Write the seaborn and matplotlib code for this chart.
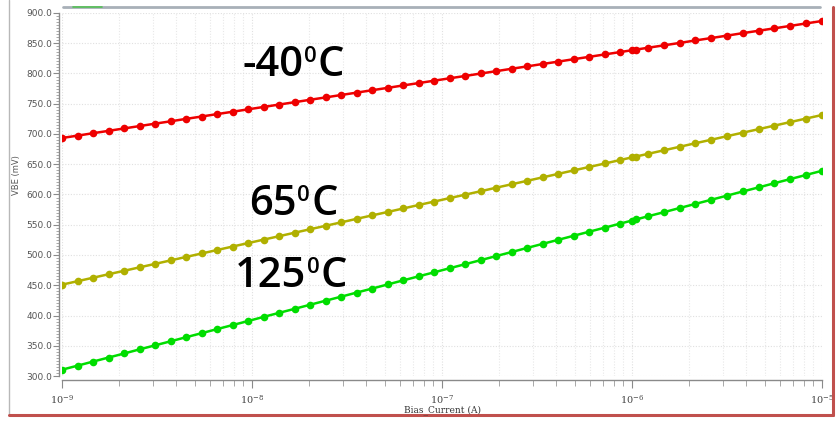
import numpy as np
import pandas as pd
import matplotlib
matplotlib.use("Agg")
import matplotlib.pyplot as plt
from matplotlib.lines import Line2D
from matplotlib.ticker import FixedLocator, MultipleLocator, FuncFormatter
import seaborn as sns

# Bias-current sweep (log10 of amps): first run 1n..~1u, second run 1u..10u
SWEEP1_LOG = [-9.000, -8.918, -8.837, -8.755, -8.673, -8.592, -8.510, -8.428,
              -8.347, -8.265, -8.184, -8.102, -8.020, -7.939, -7.857, -7.775,
              -7.694, -7.612, -7.530, -7.449, -7.367, -7.285, -7.204, -7.122,
              -7.040, -6.959, -6.877, -6.795, -6.714, -6.632, -6.551, -6.469,
              -6.387, -6.306, -6.224, -6.142, -6.061, -5.979]
SWEEP2_LOG = [-6.000, -5.917, -5.833, -5.750, -5.667, -5.583, -5.500, -5.417,
              -5.333, -5.250, -5.167, -5.083, -5.000]

# VBE (mV) at -40 C
VBE_M40_1 = [693.4, 697.3, 701.3, 705.2, 709.2, 713.1, 717.1, 721.0, 725.0, 728.9,
             732.9, 736.8, 740.8, 744.7, 748.7, 752.6, 756.6, 760.5, 764.5, 768.4,
             772.4, 776.3, 780.3, 784.2, 788.2, 792.1, 796.0, 800.0, 803.9, 807.9,
             811.8, 815.8, 819.7, 823.7, 827.6, 831.6, 835.5, 839.5]
VBE_M40_2 = [838.5, 842.5, 846.5, 850.5, 854.6, 858.6, 862.6, 866.7, 870.7, 874.7,
             878.7, 882.8, 886.8]
# VBE (mV) at 65 C
VBE_65_1 = [451.0, 456.7, 462.4, 468.2, 473.9, 479.6, 485.3, 491.1, 496.8, 502.5,
            508.2, 514.0, 519.7, 525.4, 531.1, 536.9, 542.6, 548.3, 554.0, 559.8,
            565.5, 571.2, 576.9, 582.7, 588.4, 594.1, 599.8, 605.5, 611.3, 617.0,
            622.7, 628.4, 634.2, 639.9, 645.6, 651.3, 657.1, 662.8]
VBE_65_2 = [661.3, 667.1, 673.0, 678.8, 684.7, 690.5, 696.4, 702.2, 708.0, 713.9,
            719.7, 725.6, 731.4]
# VBE (mV) at 125 C
VBE_125_1 = [310.4, 317.1, 323.8, 330.5, 337.2, 344.0, 350.7, 357.4, 364.1, 370.8,
             377.5, 384.2, 390.9, 397.7, 404.4, 411.1, 417.8, 424.5, 431.2, 437.9,
             444.6, 451.4, 458.1, 464.8, 471.5, 478.2, 484.9, 491.6, 498.3, 505.0,
             511.8, 518.5, 525.2, 531.9, 538.6, 545.3, 552.0, 558.7]
VBE_125_2 = [557.0, 563.9, 570.7, 577.6, 584.4, 591.3, 598.1, 605.0, 611.8, 618.7,
             625.5, 632.4, 639.2]

TEMPS = ["-40", "65", "125"]
COLORS = {"-40": "#ee0000", "65": "#b0b000", "125": "#00dd00"}
X_TICKS = [1e-9, 1e-8, 1e-7, 1e-6, 1e-5]
X_TICK_LABELS = ["$10^{-9}$", "$10^{-8}$", "$10^{-7}$", "$10^{-6}$", "$10^{-5}$"]

series = {
    "-40": (VBE_M40_1, VBE_M40_2),
    "65": (VBE_65_1, VBE_65_2),
    "125": (VBE_125_1, VBE_125_2),
}

rows = []
for t in TEMPS:
    s1, s2 = series[t]
    for k, (logs, vals) in enumerate([(SWEEP1_LOG, s1), (SWEEP2_LOG, s2)]):
        for lg, v in zip(logs, vals):
            rows.append({"temp": t, "run": k, "current": 10.0 ** lg, "vbe": v})
df = pd.DataFrame(rows)

sns.set_theme(style="white")
plt.rcParams["font.family"] = ["DejaVu Sans"]
plt.rcParams["mathtext.fontset"] = "dejavuserif"

W, H = 837, 421
fig = plt.figure(figsize=(W / 100, H / 100), dpi=100)
fig.patch.set_facecolor("white")

ax = fig.add_axes([62 / W, 1 - 376 / H, (822 - 62) / W, (376 - 13) / H])
ax.set_facecolor("white")

for t in TEMPS:
    sub = df[df["temp"] == t]
    for k in (0, 1):
        part = sub[sub["run"] == k]
        sns.lineplot(data=part, x="current", y="vbe", ax=ax, color=COLORS[t],
                     marker="o", markersize=5.5, markeredgewidth=0,
                     linewidth=1.8, sort=False, estimator=None, legend=False,
                     zorder=3)

ax.set_xscale("log")
ax.set_xlim(1e-9, 1e-5)
ax.set_ylim(300, 900)

minor_x = [m * d for d in (1e-9, 1e-8, 1e-7, 1e-6) for m in range(2, 10)]
ax.xaxis.set_major_locator(FixedLocator(X_TICKS))
ax.xaxis.set_minor_locator(FixedLocator(minor_x))
ax.xaxis.set_minor_formatter(FuncFormatter(lambda v, p: ""))
ax.set_xticklabels(X_TICK_LABELS)
ax.yaxis.set_major_locator(MultipleLocator(50))
ax.yaxis.set_minor_locator(MultipleLocator(5))
ax.yaxis.set_major_formatter(FuncFormatter(lambda v, p: f"{v:.1f}"))

ax.grid(True, which="major", axis="both", color="#e0e0e0", linestyle=(0, (1, 1.5)), linewidth=0.8)
ax.grid(True, which="minor", axis="x", color="#e8e8e8", linestyle=(0, (1, 1.5)), linewidth=0.8)

for side in ("top", "right"):
    ax.spines[side].set_visible(False)
ax.spines["left"].set_position(("outward", 2))
ax.spines["bottom"].set_position(("outward", 3))
for side in ("left", "bottom"):
    ax.spines[side].set_color("#8a8a8a")
    ax.spines[side].set_linewidth(1.0)

ax.tick_params(axis="y", which="major", direction="out", length=4, width=0.8,
               color="#8a8a8a", labelsize=6.5, labelcolor="#555555", pad=1, left=True)
ax.tick_params(axis="y", which="minor", direction="out", length=2, width=0.6,
               color="#9a9a9a", left=True)
ax.tick_params(axis="x", which="major", direction="out", length=6, width=0.8,
               color="#8a8a8a", labelsize=7, labelcolor="#444444", pad=3.5, bottom=True)
ax.tick_params(axis="x", which="minor", direction="out", length=4, width=0.6,
               color="#9a9a9a", bottom=True)

ax.set_xlabel("")
ax.set_ylabel("")
fig.text(443 / W, 1 - 410 / H, "Bias_Current (A)", ha="center", va="center",
         fontsize=6.5, family="DejaVu Serif", color="#333333")
fig.text(17 / W, 1 - 175 / H, "VBE (mV)", ha="center", va="center", rotation=90,
         fontsize=6, color="#555555")

# temperature labels: number, raised small "0", then "C"
renderer = fig.canvas.get_renderer()
LAB_FAMILY = ["Open Sans", "DejaVu Sans"]


def temp_label(x_px, base_px, number):
    big = dict(fontsize=30, fontweight="semibold", family=LAB_FAMILY, color="black",
               ha="left", va="baseline")
    t1 = fig.text(x_px / W, 1 - base_px / H, number, **big)
    bb = t1.get_window_extent(renderer)
    x2 = bb.x1 + 1
    top = 1 - (base_px - 30) / H
    t2 = fig.text(x2 / W, top, "0", fontsize=16, fontweight="semibold", family=LAB_FAMILY,
                  color="black", ha="left", va="top")
    bb2 = t2.get_window_extent(renderer)
    fig.text((bb2.x1 + 1) / W, 1 - base_px / H, "C", **big)


temp_label(242, 76, "-40")
temp_label(249, 215, "65")
temp_label(235, 287, "125")

# window frame pieces
fig.add_artist(Line2D([9 / W, 9 / W], [1 - 415 / H, 1.0], color="#b8b8b8", linewidth=1.0))
fig.add_artist(Line2D([9 / W, 833 / W], [1 - 415 / H, 1 - 415 / H], color="#c0504d", linewidth=2.2))
fig.add_artist(Line2D([833 / W, 833 / W], [1 - 415 / H, 1 - 7 / H], color="#c0504d", linewidth=2.2))
fig.add_artist(Line2D([63 / W, 820 / W], [1 - 7 / H, 1 - 7 / H], color="#a8b0b8", linewidth=2.0))
fig.add_artist(Line2D([73 / W, 102 / W], [1 - 6.5 / H, 1 - 6.5 / H], color="#55c055", linewidth=1.2))

fig.savefig("out.png", dpi=100, facecolor="white")
